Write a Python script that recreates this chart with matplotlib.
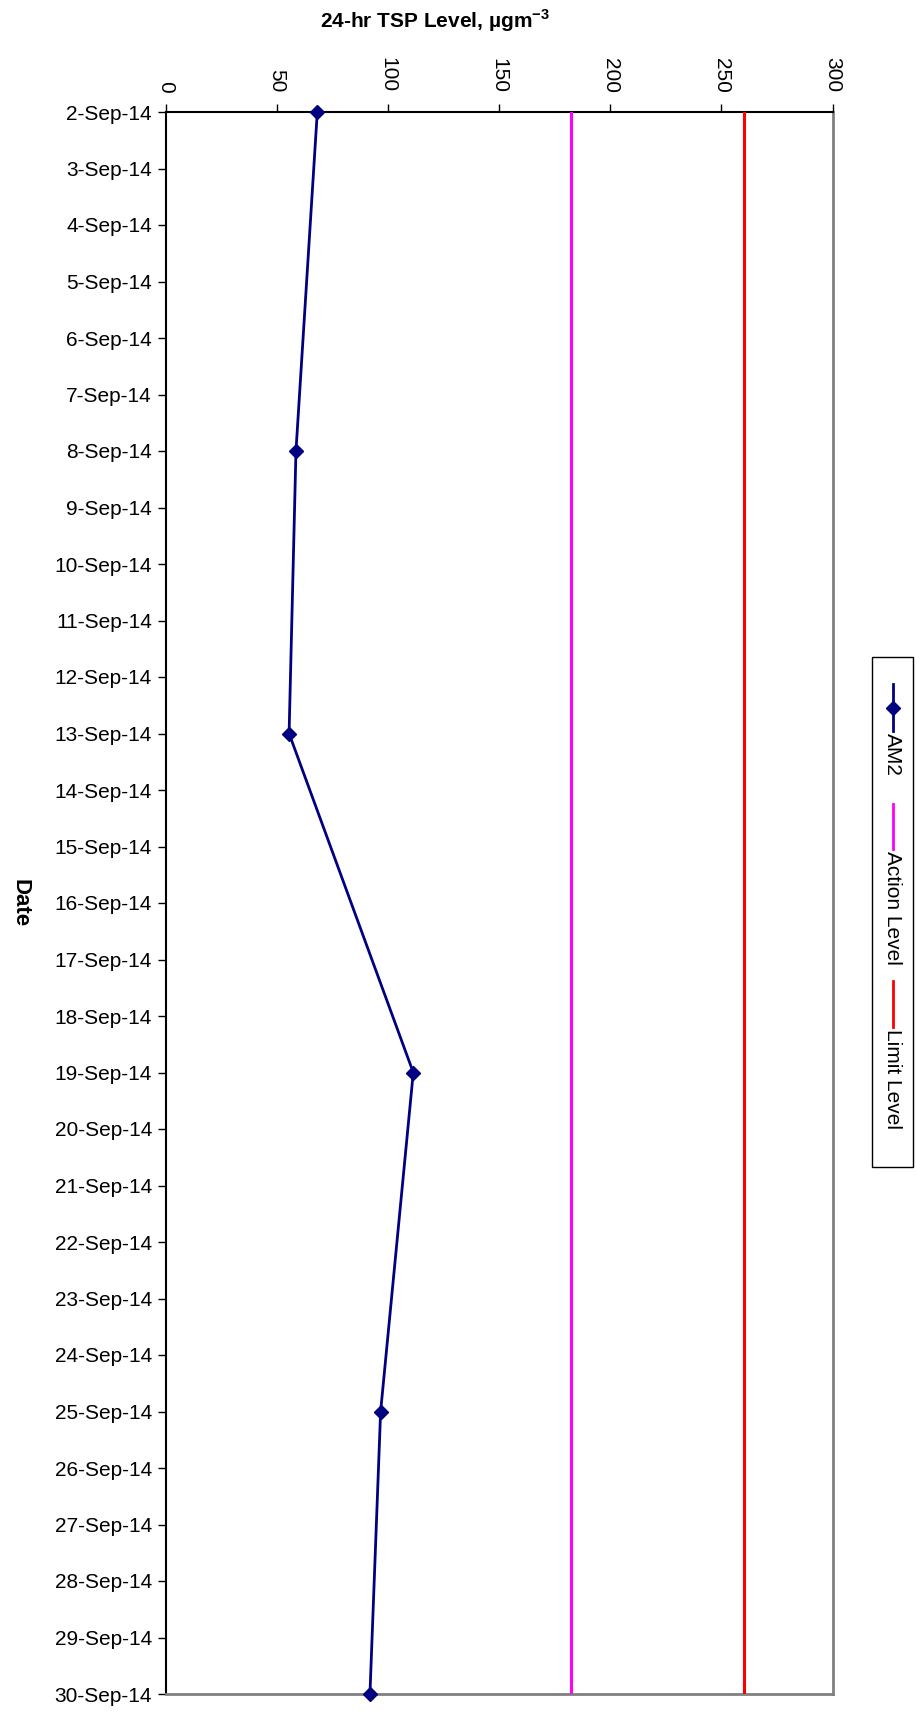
import matplotlib.pyplot as plt
from matplotlib.lines import Line2D
from matplotlib.patches import Rectangle

plt.rcParams['font.family'] = ['Liberation Sans', 'DejaVu Sans']
plt.rcParams['mathtext.fontset'] = 'custom'
plt.rcParams['mathtext.rm'] = 'Liberation Sans'
plt.rcParams['mathtext.bf'] = 'Liberation Sans:bold'

## data
dates = ['%d-Sep-14' % d for d in range(2, 31)]
am2_dates = ['2-Sep-14', '8-Sep-14', '13-Sep-14', '19-Sep-14', '25-Sep-14', '30-Sep-14']
am2_values = [68.1, 58.5, 55.4, 111.3, 96.6, 91.8]
action_level = 182.1
limit_level = 260.0

W, H = 916, 1711
ftsz = 15

fig = plt.figure(figsize=(W / 100, H / 100), dpi=100)
# plot area in pixel coords -> figure fractions
left, right, top, bottom = 166, 832.5, 112, 1694
ax = fig.add_axes([left / W, 1 - bottom / H, (right - left) / W, (bottom - top) / H])

pos = list(range(len(dates)))
am2_pos = [dates.index(d) for d in am2_dates]

ax.plot(am2_values, am2_pos, c='#000080', lw=2, marker='D', ms=7.5, zorder=5, clip_on=False)
ax.plot([action_level] * len(dates), pos, c='#FF00FF', lw=2.2, zorder=3)
ax.plot([limit_level] * len(dates), pos, c='#FF0000', lw=2.2, zorder=3)

ax.set_xlim(0, 300)
ax.set_ylim(len(dates) - 1, 0)
ax.set_xticks(range(0, 301, 50))
ax.set_yticks(pos)
ax.set_yticklabels(dates, fontsize=ftsz)
ax.xaxis.tick_top()
ax.tick_params(axis='x', direction='out', length=6, width=1, pad=8, labelsize=ftsz, labelrotation=-90)
ax.tick_params(axis='y', direction='out', length=6, width=1, pad=4)

ax.spines['left'].set_color('black')
ax.spines['top'].set_color('black')
ax.spines['left'].set_linewidth(1.5)
ax.spines['top'].set_linewidth(1.5)
ax.spines['right'].set_color('#808080')
ax.spines['bottom'].set_color('#808080')
ax.spines['right'].set_linewidth(2)
ax.spines['bottom'].set_linewidth(2)

## titles
fig.text(435 / W, 1 - 21 / H, '24-hr TSP Level, \u00b5gm$^{\\mathbf{-3}}$', fontsize=ftsz,
         fontweight='bold', ha='center', va='center')
fig.text(20 / W, 1 - 903 / H, 'Date', fontsize=ftsz + 1, fontweight='bold', rotation=-90,
         ha='center', va='center')

## rotated legend
fig.add_artist(Rectangle((872 / W, 1 - 1167 / H), 41 / W, (1167 - 657) / H,
                         transform=fig.transFigure, fill=False, ec='black', lw=1))
lx = 892.5 / W
entries = [('AM2', '#000080', 'D', 684, 731), ('Action Level', '#FF00FF', None, 804, 849),
           ('Limit Level', '#FF0000', None, 981, 1027)]
for label, col, mk, y0, y1 in entries:
    fig.add_artist(Line2D([lx, lx], [1 - y0 / H, 1 - y1 / H], transform=fig.transFigure, color=col, lw=2))
    if mk:
        fig.add_artist(Line2D([lx], [1 - (y0 + y1) / 2 / H], transform=fig.transFigure, color=col,
                              marker=mk, ms=7.5))
    fig.text(lx, 1 - (y1 + 2) / H, label, fontsize=ftsz, rotation=-90, ha='center', va='top')

plt.savefig('out.png', dpi=100)
